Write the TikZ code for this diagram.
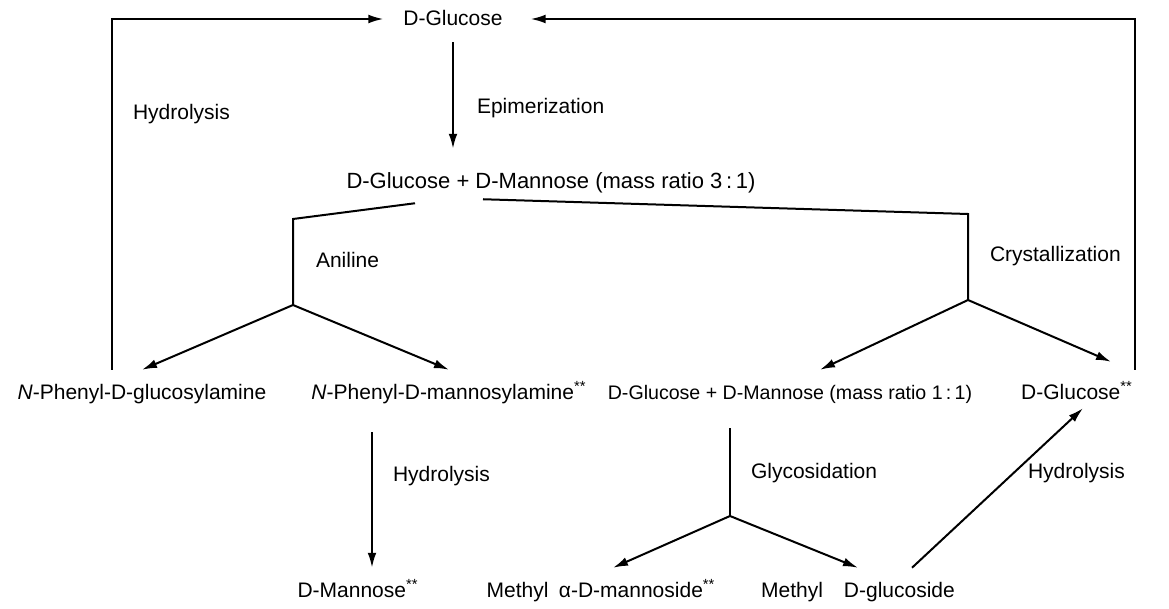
\documentclass[tikz,border=0pt]{standalone}
\usepackage{fontspec}
\setmainfont{Liberation Sans}
\usetikzlibrary{arrows.meta}
\newcommand{\twostar}{\textsuperscript{**}}

\begin{document}
\begin{tikzpicture}[x=0.5pt,y=-0.5pt,line width=1pt,
  >={Latex[length=7.5pt,width=4.4pt]},
  chem/.style={inner sep=7pt,outer sep=0pt,text height=1.5ex,text depth=.25ex,
    font=\fontsize{10.5}{12}\selectfont},
  cond/.style={anchor=west,inner sep=0pt,text height=1.5ex,text depth=.25ex,
    font=\fontsize{10.5}{12}\selectfont}]
  \useasboundingbox (0,0) rectangle (1169,609);

  % substances
  \node[chem] (glc) at (453,19) {D-Glucose};
  \node[chem,font=\fontsize{11}{13}\selectfont] (mix31) at (551,182)
    {D-Glucose + D-Mannose (mass ratio 3\,:\,1)};
  \node[chem] (phglc) at (142,393) {\textit{N}-Phenyl-D-glucosylamine};
  \node[chem] (phman) at (449,393) {\textit{N}-Phenyl-D-mannosylamine\twostar};
  \node[chem,font=\fontsize{9.8}{12}\selectfont] (mix11) at (790,393)
    {D-Glucose + D-Mannose (mass ratio 1\,:\,1)};
  \node[chem] (glcst) at (1077,393) {D-Glucose\twostar};
  \node[chem] (man) at (358,591) {D-Mannose\twostar};
  \node[chem] (mman) at (601,591) {Methyl\enspace α-D-mannoside\twostar};
  \node[chem] (mglc) at (858,591) {Methyl\quad D-glucoside};

  % corners and branch points
  \coordinate (anilc) at (293,219);
  \coordinate (anil) at (293,305);
  \coordinate (crysc) at (968,214);
  \coordinate (crys) at (968,300);
  \coordinate (glyc) at (730,516);

  % steps
  \node[cond] (hyd1) at (132,113) {Hydrolysis};
  \node[cond] (epi) at (476,107) {Epimerization};
  \node[cond] (ani) at (315,261) {Aniline};
  \node[cond] (cry) at (989,255) {Crystallization};
  \node[cond] (hyd2) at (392,475) {Hydrolysis};
  \node[cond] (gly) at (750,472) {Glycosidation};
  \node[cond] (hyd3) at (1027,472) {Hydrolysis};

  % connectors
  \draw[->] ([xshift=-15pt]phglc.north) |- ([xshift=-3pt]glc.west);
  \draw[->] ([xshift=29pt]glcst.north) |- ([xshift=7pt]glc.east);
  \draw[->,shorten >=5pt] (glc.south) -- (glc.south |- mix31.north);

  \draw ([xshift=-68pt,yshift=1pt]mix31.south) -- (anilc) -- (anil);
  \draw ([xshift=-34pt,yshift=3pt]mix31.south) -- (crysc) -- (crys);
  \draw[->] (anil) -- (phglc.north);
  \draw[->] (anil) -- (phman.north);
  \draw[->] (crys) -- ([xshift=15pt]mix11.north);
  \draw[->] (crys) -- ([xshift=17pt,yshift=4pt]glcst.north);

  \draw[->,shorten <=8pt] ([xshift=7pt]man.north |- phman.south) -- ([xshift=7pt]man.north);
  \draw[shorten <=6pt] (glyc |- mix11.south) -- (glyc);
  \draw[->] (glyc) -- ([xshift=6pt]mman.north);
  \draw[->] (glyc) -- (mglc.north);
  \draw[->] ([xshift=27pt]mglc.north) -- ([xshift=3pt,yshift=4pt]glcst.south);
\end{tikzpicture}
\end{document}
